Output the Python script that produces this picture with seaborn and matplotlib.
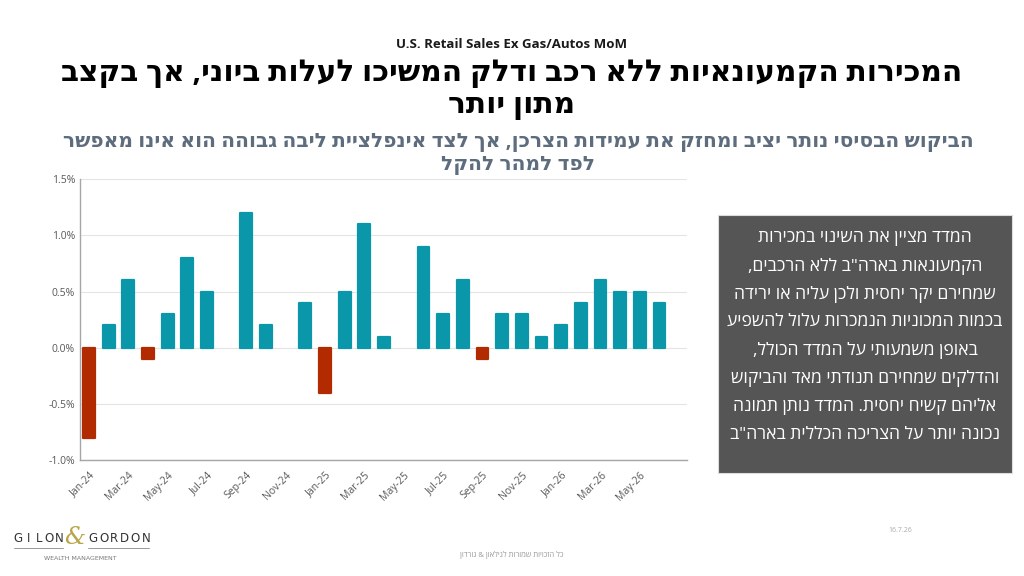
import matplotlib
matplotlib.use("Agg")
import matplotlib.pyplot as plt
import seaborn as sns
import pandas as pd
from matplotlib.patches import Rectangle
from matplotlib.ticker import FuncFormatter

# data: monthly change, Jan-24 .. Jun-26 (0 = no bar shown)
months = ['Jan-24', 'Feb-24', 'Mar-24', 'Apr-24', 'May-24', 'Jun-24', 'Jul-24', 'Aug-24',
          'Sep-24', 'Oct-24', 'Nov-24', 'Dec-24', 'Jan-25', 'Feb-25', 'Mar-25', 'Apr-25',
          'May-25', 'Jun-25', 'Jul-25', 'Aug-25', 'Sep-25', 'Oct-25', 'Nov-25', 'Dec-25',
          'Jan-26', 'Feb-26', 'Mar-26', 'Apr-26', 'May-26', 'Jun-26']
mom_change = [-0.8, 0.2, 0.6, -0.1, 0.3, 0.8, 0.5, 0.0,
              1.2, 0.2, 0.0, 0.4, -0.4, 0.5, 1.1, 0.1,
              0.0, 0.9, 0.3, 0.6, -0.1, 0.3, 0.3, 0.1,
              0.2, 0.4, 0.6, 0.5, 0.5, 0.4]

chart_label = "U.S. Retail Sales Ex Gas/Autos MoM"
title_lines = ["המכירות הקמעונאיות ללא רכב ודלק המשיכו לעלות ביוני, אך בקצב",
               "מתון יותר"]
subtitle_lines = ["הביקוש הבסיסי נותר יציב ומחזק את עמידות הצרכן, אך לצד אינפלציית ליבה גבוהה הוא אינו מאפשר",
                  "לפד למהר להקל"]
box_lines = ["המדד מציין את השינוי במכירות",
             "הקמעונאות בארה\"ב ללא הרכבים,",
             "שמחירם יקר יחסית ולכן עליה או ירידה",
             "בכמות המכוניות הנמכרות עלול להשפיע",
             "באופן משמעותי על המדד הכולל,",
             "והדלקים שמחירם תנודתי מאד והביקוש",
             "אליהם קשיח יחסית. המדד נותן תמונה",
             "נכונה יותר על הצריכה הכללית בארה\"ב"]
footer_text = "כל הזכויות שמורות לגילאון & גורדון"
date_text = "16.7.26"

TEAL = '#0a97a9'
RED = '#b22a00'


def rtl(s):
    # matplotlib has no bidi support, so flip Hebrew to visual order
    return s[::-1]


df = pd.DataFrame({'month': months, 'value': mom_change})
df['sign'] = ['neg' if v < 0 else 'pos' for v in df['value']]

sns.set_theme(style="white")
plt.rcParams['font.family'] = ['Open Sans', 'DejaVu Sans']

fig = plt.figure(figsize=(10.24, 5.76), dpi=100)
ax = fig.add_axes([0.078, 0.201, 0.593, 0.488])

sns.barplot(data=df, x='month', y='value', hue='sign',
            palette={'pos': TEAL, 'neg': RED}, dodge=False, width=0.6,
            legend=False, ax=ax, saturation=1)

# slightly rounded bar corners like the original
for p in ax.patches:
    if p.get_height() != 0:
        p.set_edgecolor(p.get_facecolor())
        p.set_linewidth(1.6)
        p.set_joinstyle('round')
    else:
        p.set_visible(False)

ax.set_ylim(-1.0, 1.5)
ax.set_yticks([-1.0, -0.5, 0.0, 0.5, 1.0, 1.5])
ax.yaxis.set_major_formatter(FuncFormatter(lambda v, p: f'{v:.1f}%'))
ax.set_xlim(-0.46, 30.4)
ax.set_xticks(range(0, len(months), 2))
ax.set_xticklabels(months[::2], rotation=45, ha='right', rotation_mode='anchor')
ax.tick_params(axis='both', length=0, labelsize=7.5, labelcolor='#595959')
ax.tick_params(axis='x', pad=7)
ax.set_xlabel('')
ax.set_ylabel('')
ax.grid(axis='y', color='#e4e4e4', linewidth=0.8)
ax.set_axisbelow(True)
for side in ['top', 'right']:
    ax.spines[side].set_visible(False)
ax.spines['left'].set_color('#a6a6a6')
ax.spines['bottom'].set_color('#a6a6a6')
ax.spines['left'].set_linewidth(1.0)
ax.spines['bottom'].set_linewidth(1.0)

# titles
fig.text(0.5, 0.922, chart_label, ha='center', va='center', fontsize=9.5,
         fontweight='bold', color='#1a1a1a')
fig.text(0.5, 0.873, rtl(title_lines[0]), ha='center', va='center', fontsize=21.3,
         fontweight='bold', color='black')
fig.text(0.5, 0.817, rtl(title_lines[1]), ha='center', va='center', fontsize=21.3,
         fontweight='bold', color='black')
fig.text(0.506, 0.754, rtl(subtitle_lines[0]), ha='center', va='center', fontsize=14.5,
         fontweight='bold', color='#5d6d7e')
fig.text(0.506, 0.713, rtl(subtitle_lines[1]), ha='center', va='center', fontsize=14.5,
         fontweight='bold', color='#5d6d7e')

# explanation box
fig.patches.append(Rectangle((718 / 1024, 1 - 473 / 576), 294 / 1024, 258 / 576,
                             transform=fig.transFigure, facecolor='#555555',
                             edgecolor='#dddddd', linewidth=0.8))
for i, line in enumerate(box_lines):
    fig.text(865 / 1024, 1 - (238 + i * 28.1) / 576, rtl(line), ha='center', va='center',
             fontsize=12.6, color='white')

# footer
fig.text(900 / 1024, 1 - 531 / 576, date_text, ha='center', va='center',
         fontsize=5, color='#aaaaaa')
fig.text(512 / 1024, 1 - 555 / 576, rtl(footer_text), ha='center', va='center',
         fontsize=5.5, color='#999999')

# logo
for i, ch in enumerate('GILON'):
    fig.text((18 + i * 10.4) / 1024, 1 - 538 / 576, ch, ha='center', va='center',
             fontsize=8.5, color='#333333', family='DejaVu Sans')
for i, ch in enumerate('GORDON'):
    fig.text((93 + i * 10.6) / 1024, 1 - 538 / 576, ch, ha='center', va='center',
             fontsize=8.5, color='#333333', family='DejaVu Sans')
fig.text(75 / 1024, 1 - 538 / 576, '&', ha='center', va='center', fontsize=17,
         color='#b8a548', family='DejaVu Serif', style='italic')
fig.add_artist(plt.Line2D([14 / 1024, 63 / 1024], [1 - 548 / 576] * 2,
                          transform=fig.transFigure, color='#888888', linewidth=0.6))
fig.add_artist(plt.Line2D([88 / 1024, 149 / 1024], [1 - 548 / 576] * 2,
                          transform=fig.transFigure, color='#888888', linewidth=0.6))
fig.text(80 / 1024, 1 - 558 / 576, 'WEALTH MANAGEMENT', ha='center', va='center',
         fontsize=4.5, color='#777777', family='DejaVu Sans')

fig.savefig('out.png', dpi=100)
